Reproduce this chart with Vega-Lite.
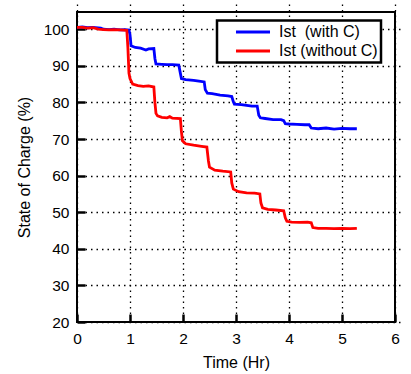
{
  "$schema": "https://vega.github.io/schema/vega-lite/v6.json",
  "autosize": {"type": "none"},
  "width": 318,
  "height": 310,
  "padding": {"left": 77, "top": 12, "right": 16, "bottom": 52},
  "background": "white",
  "config": {
    "font": "Liberation Sans",
    "view": {"stroke": "black", "strokeWidth": 2},
    "axis": {
      "domain": false,
      "grid": true,
      "gridColor": "black",
      "gridOpacity": 1,
      "gridDash": [1.5, 4],
      "gridWidth": 1.3,
      "tickColor": "black",
      "tickWidth": 2.5,
      "tickSize": 8,
      "offset": -8,
      "labelColor": "black",
      "labelFontSize": 15.5,
      "labelFont": "Liberation Sans",
      "titleFont": "Liberation Sans",
      "titleFontSize": 16,
      "titleFontWeight": "normal",
      "titleColor": "black"
    },
    "legend": {
      "strokeColor": "black",
      "strokeWidth": 2.5,
      "fillColor": "white"
    }
  },
  "data": {
    "values": [
      {"t": 0, "soc": 100.5, "s": "Ist\u00a0 (with C)"},
      {"t": 0.1, "soc": 100.6, "s": "Ist\u00a0 (with C)"},
      {"t": 0.2, "soc": 100.4, "s": "Ist\u00a0 (with C)"},
      {"t": 0.3, "soc": 100.5, "s": "Ist\u00a0 (with C)"},
      {"t": 0.45, "soc": 100.3, "s": "Ist\u00a0 (with C)"},
      {"t": 0.5, "soc": 100.0, "s": "Ist\u00a0 (with C)"},
      {"t": 0.6, "soc": 99.9, "s": "Ist\u00a0 (with C)"},
      {"t": 0.7, "soc": 100.0, "s": "Ist\u00a0 (with C)"},
      {"t": 0.8, "soc": 99.8, "s": "Ist\u00a0 (with C)"},
      {"t": 0.9, "soc": 99.9, "s": "Ist\u00a0 (with C)"},
      {"t": 0.98, "soc": 99.8, "s": "Ist\u00a0 (with C)"},
      {"t": 1.0, "soc": 98.5, "s": "Ist\u00a0 (with C)"},
      {"t": 1.02, "soc": 95.5, "s": "Ist\u00a0 (with C)"},
      {"t": 1.1, "soc": 95.0, "s": "Ist\u00a0 (with C)"},
      {"t": 1.2, "soc": 94.8, "s": "Ist\u00a0 (with C)"},
      {"t": 1.3, "soc": 94.3, "s": "Ist\u00a0 (with C)"},
      {"t": 1.35, "soc": 94.6, "s": "Ist\u00a0 (with C)"},
      {"t": 1.45, "soc": 94.7, "s": "Ist\u00a0 (with C)"},
      {"t": 1.47, "soc": 92.0, "s": "Ist\u00a0 (with C)"},
      {"t": 1.49, "soc": 90.5, "s": "Ist\u00a0 (with C)"},
      {"t": 1.6, "soc": 90.4, "s": "Ist\u00a0 (with C)"},
      {"t": 1.7, "soc": 90.3, "s": "Ist\u00a0 (with C)"},
      {"t": 1.8, "soc": 90.3, "s": "Ist\u00a0 (with C)"},
      {"t": 1.92, "soc": 90.2, "s": "Ist\u00a0 (with C)"},
      {"t": 1.95, "soc": 88.0, "s": "Ist\u00a0 (with C)"},
      {"t": 1.97, "soc": 86.5, "s": "Ist\u00a0 (with C)"},
      {"t": 2.05, "soc": 86.2, "s": "Ist\u00a0 (with C)"},
      {"t": 2.2, "soc": 86.0, "s": "Ist\u00a0 (with C)"},
      {"t": 2.3, "soc": 85.8, "s": "Ist\u00a0 (with C)"},
      {"t": 2.4, "soc": 85.6, "s": "Ist\u00a0 (with C)"},
      {"t": 2.42, "soc": 83.5, "s": "Ist\u00a0 (with C)"},
      {"t": 2.46, "soc": 82.5, "s": "Ist\u00a0 (with C)"},
      {"t": 2.55, "soc": 82.4, "s": "Ist\u00a0 (with C)"},
      {"t": 2.7, "soc": 82.0, "s": "Ist\u00a0 (with C)"},
      {"t": 2.85, "soc": 81.8, "s": "Ist\u00a0 (with C)"},
      {"t": 2.92, "soc": 81.6, "s": "Ist\u00a0 (with C)"},
      {"t": 2.95, "soc": 80.2, "s": "Ist\u00a0 (with C)"},
      {"t": 2.97, "soc": 79.5, "s": "Ist\u00a0 (with C)"},
      {"t": 3.1, "soc": 79.4, "s": "Ist\u00a0 (with C)"},
      {"t": 3.2, "soc": 79.2, "s": "Ist\u00a0 (with C)"},
      {"t": 3.3, "soc": 79.0, "s": "Ist\u00a0 (with C)"},
      {"t": 3.4, "soc": 79.0, "s": "Ist\u00a0 (with C)"},
      {"t": 3.43, "soc": 76.5, "s": "Ist\u00a0 (with C)"},
      {"t": 3.46, "soc": 75.8, "s": "Ist\u00a0 (with C)"},
      {"t": 3.55, "soc": 75.6, "s": "Ist\u00a0 (with C)"},
      {"t": 3.7, "soc": 75.3, "s": "Ist\u00a0 (with C)"},
      {"t": 3.85, "soc": 75.3, "s": "Ist\u00a0 (with C)"},
      {"t": 3.9, "soc": 75.0, "s": "Ist\u00a0 (with C)"},
      {"t": 3.93, "soc": 74.2, "s": "Ist\u00a0 (with C)"},
      {"t": 4.0, "soc": 74.1, "s": "Ist\u00a0 (with C)"},
      {"t": 4.15, "soc": 74.0, "s": "Ist\u00a0 (with C)"},
      {"t": 4.3, "soc": 73.9, "s": "Ist\u00a0 (with C)"},
      {"t": 4.38, "soc": 73.9, "s": "Ist\u00a0 (with C)"},
      {"t": 4.42, "soc": 73.0, "s": "Ist\u00a0 (with C)"},
      {"t": 4.55, "soc": 72.8, "s": "Ist\u00a0 (with C)"},
      {"t": 4.7, "soc": 73.0, "s": "Ist\u00a0 (with C)"},
      {"t": 4.85, "soc": 72.7, "s": "Ist\u00a0 (with C)"},
      {"t": 5.0, "soc": 72.9, "s": "Ist\u00a0 (with C)"},
      {"t": 5.15, "soc": 72.8, "s": "Ist\u00a0 (with C)"},
      {"t": 5.28, "soc": 72.8, "s": "Ist\u00a0 (with C)"},
      {"t": 0, "soc": 100.5, "s": "Ist (without C)"},
      {"t": 0.1, "soc": 100.5, "s": "Ist (without C)"},
      {"t": 0.2, "soc": 100.3, "s": "Ist (without C)"},
      {"t": 0.3, "soc": 100.4, "s": "Ist (without C)"},
      {"t": 0.4, "soc": 100.0, "s": "Ist (without C)"},
      {"t": 0.5, "soc": 99.9, "s": "Ist (without C)"},
      {"t": 0.6, "soc": 99.8, "s": "Ist (without C)"},
      {"t": 0.7, "soc": 99.9, "s": "Ist (without C)"},
      {"t": 0.8, "soc": 99.8, "s": "Ist (without C)"},
      {"t": 0.94, "soc": 99.7, "s": "Ist (without C)"},
      {"t": 0.96, "soc": 95.0, "s": "Ist (without C)"},
      {"t": 0.98, "soc": 88.0, "s": "Ist (without C)"},
      {"t": 1.0, "soc": 86.5, "s": "Ist (without C)"},
      {"t": 1.05, "soc": 85.0, "s": "Ist (without C)"},
      {"t": 1.15, "soc": 84.6, "s": "Ist (without C)"},
      {"t": 1.25, "soc": 84.4, "s": "Ist (without C)"},
      {"t": 1.35, "soc": 84.5, "s": "Ist (without C)"},
      {"t": 1.45, "soc": 84.2, "s": "Ist (without C)"},
      {"t": 1.47, "soc": 80.0, "s": "Ist (without C)"},
      {"t": 1.49, "soc": 77.0, "s": "Ist (without C)"},
      {"t": 1.52, "soc": 76.3, "s": "Ist (without C)"},
      {"t": 1.6, "soc": 75.9, "s": "Ist (without C)"},
      {"t": 1.7, "soc": 75.8, "s": "Ist (without C)"},
      {"t": 1.75, "soc": 76.1, "s": "Ist (without C)"},
      {"t": 1.8, "soc": 75.7, "s": "Ist (without C)"},
      {"t": 1.95, "soc": 75.6, "s": "Ist (without C)"},
      {"t": 1.97, "soc": 72.0, "s": "Ist (without C)"},
      {"t": 1.99, "soc": 69.5, "s": "Ist (without C)"},
      {"t": 2.05, "soc": 68.7, "s": "Ist (without C)"},
      {"t": 2.2, "soc": 68.3, "s": "Ist (without C)"},
      {"t": 2.35, "soc": 68.0, "s": "Ist (without C)"},
      {"t": 2.45, "soc": 67.8, "s": "Ist (without C)"},
      {"t": 2.48, "soc": 64.0, "s": "Ist (without C)"},
      {"t": 2.5, "soc": 62.3, "s": "Ist (without C)"},
      {"t": 2.6, "soc": 61.5, "s": "Ist (without C)"},
      {"t": 2.75, "soc": 61.2, "s": "Ist (without C)"},
      {"t": 2.9, "soc": 61.0, "s": "Ist (without C)"},
      {"t": 2.92, "soc": 58.0, "s": "Ist (without C)"},
      {"t": 2.95, "soc": 56.3, "s": "Ist (without C)"},
      {"t": 3.05, "soc": 55.6, "s": "Ist (without C)"},
      {"t": 3.2, "soc": 55.3, "s": "Ist (without C)"},
      {"t": 3.35, "soc": 55.2, "s": "Ist (without C)"},
      {"t": 3.45, "soc": 55.0, "s": "Ist (without C)"},
      {"t": 3.47, "soc": 52.5, "s": "Ist (without C)"},
      {"t": 3.5, "soc": 51.2, "s": "Ist (without C)"},
      {"t": 3.6, "soc": 50.8, "s": "Ist (without C)"},
      {"t": 3.75, "soc": 50.6, "s": "Ist (without C)"},
      {"t": 3.9, "soc": 50.4, "s": "Ist (without C)"},
      {"t": 3.93, "soc": 48.5, "s": "Ist (without C)"},
      {"t": 3.96, "soc": 47.5, "s": "Ist (without C)"},
      {"t": 4.05, "soc": 47.3, "s": "Ist (without C)"},
      {"t": 4.2, "soc": 47.2, "s": "Ist (without C)"},
      {"t": 4.35, "soc": 47.3, "s": "Ist (without C)"},
      {"t": 4.42, "soc": 47.1, "s": "Ist (without C)"},
      {"t": 4.45, "soc": 45.8, "s": "Ist (without C)"},
      {"t": 4.55, "soc": 45.6, "s": "Ist (without C)"},
      {"t": 4.7, "soc": 45.6, "s": "Ist (without C)"},
      {"t": 4.85, "soc": 45.5, "s": "Ist (without C)"},
      {"t": 5.0, "soc": 45.6, "s": "Ist (without C)"},
      {"t": 5.15, "soc": 45.5, "s": "Ist (without C)"},
      {"t": 5.28, "soc": 45.6, "s": "Ist (without C)"}
    ]
  },
  "mark": {"type": "line", "strokeWidth": 2.8, "clip": true},
  "encoding": {
    "x": {
      "field": "t",
      "type": "quantitative",
      "scale": {"domain": [0, 6], "nice": false},
      "axis": {"title": "Time (Hr)", "values": [0, 1, 2, 3, 4, 5, 6], "labelPadding": 9, "titlePadding": 8, "labelFlush": false}
    },
    "y": {
      "field": "soc",
      "type": "quantitative",
      "scale": {"domain": [20, 104.7], "nice": false, "zero": false},
      "axis": {"title": "State of Charge (%)", "values": [20, 30, 40, 50, 60, 70, 80, 90, 100], "labelPadding": 8, "titlePadding": 11, "labelFlush": false}
    },
    "color": {
      "field": "s",
      "type": "nominal",
      "sort": null,
      "scale": {"domain": ["Ist\u00a0 (with C)", "Ist (without C)"], "range": ["#0000ff", "#ff0000"]},
      "legend": {
        "title": null,
        "orient": "none",
        "legendX": 140,
        "legendY": 8.5,
        "symbolType": "M-2.43,0H2.43",
        "symbolSize": 196,
        "symbolStrokeWidth": 3,
        "labelFontSize": 16,
        "labelFont": "Liberation Sans",
        "labelColor": "black",
        "padding": 3,
        "rowPadding": 2,
        "symbolOffset": 24.5,
        "labelOffset": 17.5
      }
    }
  }
}
